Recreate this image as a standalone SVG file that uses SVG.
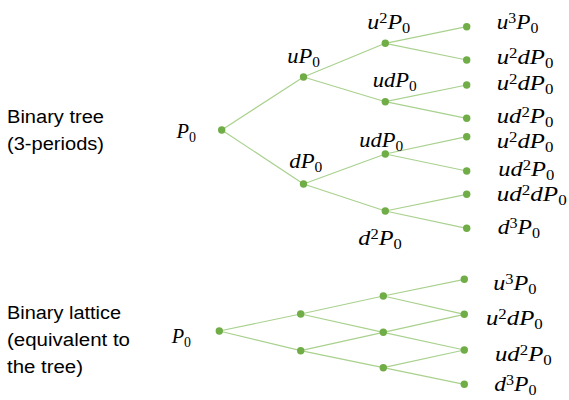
<svg xmlns="http://www.w3.org/2000/svg" width="569" height="400" viewBox="0 0 569 400">
<style>
.bg{fill:#ffffff}
.ln{stroke:#a9d18e;stroke-width:1.2;fill:none}
.dot{fill:#70ad47}
.lbl{font-family:"Liberation Sans",Arial,sans-serif;font-size:18px;fill:#000}
.m{font-family:"Liberation Serif","Times New Roman",serif;font-style:italic;font-size:22px;fill:#000}
.s{font-size:15px;font-style:normal}
</style>
<rect class="bg" x="0" y="0" width="569" height="400"/>
<g id="captions">
<text class="lbl" x="7" y="123" textLength="97" lengthAdjust="spacingAndGlyphs">Binary tree</text>
<text class="lbl" x="7" y="150" textLength="97" lengthAdjust="spacingAndGlyphs">(3-periods)</text>
<text class="lbl" x="7" y="319" textLength="114" lengthAdjust="spacingAndGlyphs">Binary lattice</text>
<text class="lbl" x="7" y="346" textLength="123" lengthAdjust="spacingAndGlyphs">(equivalent to</text>
<text class="lbl" x="7" y="373" textLength="76" lengthAdjust="spacingAndGlyphs">the tree)</text>
</g>
<g id="connectors">
<line class="ln" x1="221.7" y1="130" x2="303.5" y2="77"/>
<line class="ln" x1="221.7" y1="130" x2="303.5" y2="184"/>
<line class="ln" x1="303.5" y1="77" x2="385.3" y2="43.3"/>
<line class="ln" x1="303.5" y1="77" x2="385.3" y2="101.7"/>
<line class="ln" x1="303.5" y1="184" x2="385.3" y2="154"/>
<line class="ln" x1="303.5" y1="184" x2="385.3" y2="211"/>
<line class="ln" x1="385.3" y1="43.3" x2="466.7" y2="26.7"/>
<line class="ln" x1="385.3" y1="43.3" x2="466.7" y2="60"/>
<line class="ln" x1="385.3" y1="101.7" x2="466.7" y2="85"/>
<line class="ln" x1="385.3" y1="101.7" x2="466.7" y2="118.3"/>
<line class="ln" x1="385.3" y1="154" x2="466.7" y2="136.7"/>
<line class="ln" x1="385.3" y1="154" x2="466.7" y2="171"/>
<line class="ln" x1="385.3" y1="211" x2="466.7" y2="194.3"/>
<line class="ln" x1="385.3" y1="211" x2="466.7" y2="228.3"/>
<line class="ln" x1="219.3" y1="331" x2="300.7" y2="314"/>
<line class="ln" x1="219.3" y1="331" x2="300.7" y2="350.7"/>
<line class="ln" x1="300.7" y1="314" x2="383.3" y2="296"/>
<line class="ln" x1="300.7" y1="314" x2="383.3" y2="332.3"/>
<line class="ln" x1="300.7" y1="350.7" x2="383.3" y2="332.3"/>
<line class="ln" x1="300.7" y1="350.7" x2="383.3" y2="367.7"/>
<line class="ln" x1="383.3" y1="296" x2="464.3" y2="279.3"/>
<line class="ln" x1="383.3" y1="296" x2="464.3" y2="314.3"/>
<line class="ln" x1="383.3" y1="332.3" x2="464.3" y2="314.3"/>
<line class="ln" x1="383.3" y1="332.3" x2="464.3" y2="350"/>
<line class="ln" x1="383.3" y1="367.7" x2="464.3" y2="350"/>
<line class="ln" x1="383.3" y1="367.7" x2="464.3" y2="384.3"/>
</g>
<g id="tree-P0"><circle class="dot" cx="221.7" cy="130" r="3.7"/><text class="m" x="176.5" y="138" textLength="19.5" lengthAdjust="spacingAndGlyphs">P<tspan class="s" dy="4">0</tspan></text></g>
<g id="tree-uP0"><circle class="dot" cx="303.5" cy="77" r="3.7"/><text class="m" x="287.3" y="62.5" textLength="32.7" lengthAdjust="spacingAndGlyphs">uP<tspan class="s" dy="4">0</tspan></text></g>
<g id="tree-dP0"><circle class="dot" cx="303.5" cy="184" r="3.7"/><text class="m" x="289.3" y="168" textLength="33" lengthAdjust="spacingAndGlyphs">dP<tspan class="s" dy="4">0</tspan></text></g>
<g id="tree-u2P0"><circle class="dot" cx="385.3" cy="43.3" r="3.7"/><text class="m" x="367.3" y="28.5" textLength="43" lengthAdjust="spacingAndGlyphs">u<tspan class="s" dy="-6">2</tspan><tspan dy="6">P</tspan><tspan class="s" dy="4">0</tspan></text></g>
<g id="tree-udP0-a"><circle class="dot" cx="385.3" cy="101.7" r="3.7"/><text class="m" x="372.7" y="86.5" textLength="44" lengthAdjust="spacingAndGlyphs">udP<tspan class="s" dy="4">0</tspan></text></g>
<g id="tree-udP0-b"><circle class="dot" cx="385.3" cy="154" r="3.7"/><text class="m" x="359.3" y="146.5" textLength="44" lengthAdjust="spacingAndGlyphs">udP<tspan class="s" dy="4">0</tspan></text></g>
<g id="tree-d2P0"><circle class="dot" cx="385.3" cy="211" r="3.7"/><text class="m" x="358.3" y="245" textLength="43.4" lengthAdjust="spacingAndGlyphs">d<tspan class="s" dy="-6">2</tspan><tspan dy="6">P</tspan><tspan class="s" dy="4">0</tspan></text></g>
<g id="tree-leaf1"><circle class="dot" cx="466.7" cy="26.7" r="3.7"/><text class="m" x="496.7" y="29" textLength="41.7" lengthAdjust="spacingAndGlyphs">u<tspan class="s" dy="-6">3</tspan><tspan dy="6">P</tspan><tspan class="s" dy="4">0</tspan></text></g>
<g id="tree-leaf2"><circle class="dot" cx="466.7" cy="60" r="3.7"/><text class="m" x="496.7" y="64" textLength="56.7" lengthAdjust="spacingAndGlyphs">u<tspan class="s" dy="-6">2</tspan><tspan dy="6">dP</tspan><tspan class="s" dy="4">0</tspan></text></g>
<g id="tree-leaf3"><circle class="dot" cx="466.7" cy="85" r="3.7"/><text class="m" x="496.7" y="90" textLength="56.7" lengthAdjust="spacingAndGlyphs">u<tspan class="s" dy="-6">2</tspan><tspan dy="6">dP</tspan><tspan class="s" dy="4">0</tspan></text></g>
<g id="tree-leaf4"><circle class="dot" cx="466.7" cy="118.3" r="3.7"/><text class="m" x="496.7" y="123" textLength="56.7" lengthAdjust="spacingAndGlyphs">ud<tspan class="s" dy="-6">2</tspan><tspan dy="6">P</tspan><tspan class="s" dy="4">0</tspan></text></g>
<g id="tree-leaf5"><circle class="dot" cx="466.7" cy="136.7" r="3.7"/><text class="m" x="496.7" y="148" textLength="56.7" lengthAdjust="spacingAndGlyphs">u<tspan class="s" dy="-6">2</tspan><tspan dy="6">dP</tspan><tspan class="s" dy="4">0</tspan></text></g>
<g id="tree-leaf6"><circle class="dot" cx="466.7" cy="171" r="3.7"/><text class="m" x="498.3" y="176" textLength="56" lengthAdjust="spacingAndGlyphs">ud<tspan class="s" dy="-6">2</tspan><tspan dy="6">P</tspan><tspan class="s" dy="4">0</tspan></text></g>
<g id="tree-leaf7"><circle class="dot" cx="466.7" cy="194.3" r="3.7"/><text class="m" x="496.7" y="201" textLength="70" lengthAdjust="spacingAndGlyphs">ud<tspan class="s" dy="-6">2</tspan><tspan dy="6">dP</tspan><tspan class="s" dy="4">0</tspan></text></g>
<g id="tree-leaf8"><circle class="dot" cx="466.7" cy="228.3" r="3.7"/><text class="m" x="497.7" y="234" textLength="42.3" lengthAdjust="spacingAndGlyphs">d<tspan class="s" dy="-6">3</tspan><tspan dy="6">P</tspan><tspan class="s" dy="4">0</tspan></text></g>
<g id="lat-P0"><circle class="dot" cx="219.3" cy="331" r="3.7"/><text class="m" x="171.7" y="343" textLength="19.3" lengthAdjust="spacingAndGlyphs">P<tspan class="s" dy="4">0</tspan></text></g>
<g id="lat-u"><circle class="dot" cx="300.7" cy="314" r="3.7"/></g>
<g id="lat-d"><circle class="dot" cx="300.7" cy="350.7" r="3.7"/></g>
<g id="lat-uu"><circle class="dot" cx="383.3" cy="296" r="3.7"/></g>
<g id="lat-ud"><circle class="dot" cx="383.3" cy="332.3" r="3.7"/></g>
<g id="lat-dd"><circle class="dot" cx="383.3" cy="367.7" r="3.7"/></g>
<g id="lat-uuu"><circle class="dot" cx="464.3" cy="279.3" r="3.7"/><text class="m" x="493.3" y="290" textLength="43.3" lengthAdjust="spacingAndGlyphs">u<tspan class="s" dy="-6">3</tspan><tspan dy="6">P</tspan><tspan class="s" dy="4">0</tspan></text></g>
<g id="lat-uud"><circle class="dot" cx="464.3" cy="314.3" r="3.7"/><text class="m" x="486" y="325" textLength="56.7" lengthAdjust="spacingAndGlyphs">u<tspan class="s" dy="-6">2</tspan><tspan dy="6">dP</tspan><tspan class="s" dy="4">0</tspan></text></g>
<g id="lat-udd"><circle class="dot" cx="464.3" cy="350" r="3.7"/><text class="m" x="495" y="361" textLength="56.7" lengthAdjust="spacingAndGlyphs">ud<tspan class="s" dy="-6">2</tspan><tspan dy="6">P</tspan><tspan class="s" dy="4">0</tspan></text></g>
<g id="lat-ddd"><circle class="dot" cx="464.3" cy="384.3" r="3.7"/><text class="m" x="494.3" y="391" textLength="42.3" lengthAdjust="spacingAndGlyphs">d<tspan class="s" dy="-6">3</tspan><tspan dy="6">P</tspan><tspan class="s" dy="4">0</tspan></text></g>
</svg>
